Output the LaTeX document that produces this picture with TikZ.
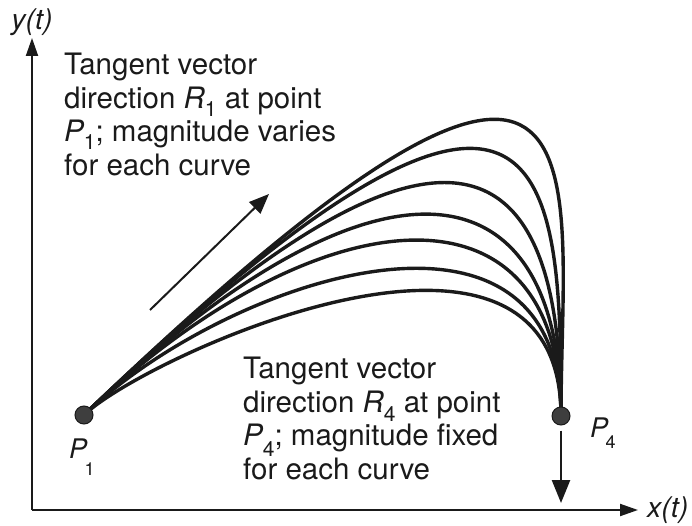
\documentclass[tikz,border=0pt]{standalone}
\usepackage{fontspec}
\setmainfont{TeX Gyre Heros}
\usetikzlibrary{arrows.meta,calc}
\definecolor{ink}{HTML}{1A1A1A}
\definecolor{dotfill}{HTML}{3E3E3E}
\newcommand\mysub[2]{\raisebox{-#1pt}[0pt][0pt]{\fontsize{21}{21}\selectfont #2}}
\tikzset{
  txt/.style={font=\fontsize{29.5}{33.5}\selectfont, align=left, inner sep=0pt, text=ink},
  lbl/.style={font=\fontsize{27}{32}\selectfont, inner sep=0pt, text=ink},
  axisline/.style={draw=ink, line width=2pt, -{Triangle[length=18pt,width=12pt]}},
  curveline/.style={draw=ink, line width=3.4pt},
  dotnode/.style={circle, draw=ink, line width=1pt, fill=dotfill, minimum size=18pt, inner sep=0pt},
  tanarrow/.style={draw=ink, line width=2pt, -{Triangle[length=20pt,width=16pt]}},
  downarrow/.style={draw=ink, line width=2.5pt, -{Triangle[length=23pt,width=18pt]}, shorten <=5pt},
}
\begin{document}
\begin{tikzpicture}[x=1pt,y=-1pt]
\useasboundingbox (0,0) rectangle (692,526);
% axes
\coordinate (O) at (32,510);
\coordinate (ytip) at (32,38);
\coordinate (xtip) at (638,510);
\draw[axisline] (O) -- (ytip);
\draw[axisline] (O) -- (xtip);
\node[lbl, font=\fontsize{28.5}{32}\selectfont, anchor=base] (ylab) at (32,30) {\itshape y(t)};
\node[lbl, font=\fontsize{28.5}{32}\selectfont, anchor=base west] (xlab) at (647,517) {\itshape x(t)};
% curves
\coordinate (p1) at (84,415);
\coordinate (p4) at (561,416);
\foreach \a in {750,650,530,415,315,195,85}{
  \draw[curveline] (p1) .. controls +(0.72*\a,-0.69*\a) and +(0,-250) .. (p4);
}
% points
\node[dotnode] (P1) at (p1) {};
\node[dotnode] (P4) at (p4) {};
\node[lbl, anchor=base west] (P1lab) at (69,458) {{\itshape P}\kern-2.5pt\raisebox{-17pt}{\fontsize{18}{18}\selectfont 1}};
\node[lbl, anchor=base west] (P4lab) at (590,437) {{\itshape P}\kern-2.5pt\raisebox{-11pt}{\fontsize{18}{18}\selectfont 4}};
% tangent vectors
\coordinate (r1s) at (150,310);
\coordinate (r1e) at (269,194);
\draw[tanarrow] (r1s) -- (r1e);
\coordinate (r4e) at (561,503);
\draw[downarrow] (P4) -- (r4e);
% texts
\node[txt, anchor=north west] (t1) at (64,53) {Tangent vector\\direction {\itshape R}\mysub{8}{1} at point\\{\itshape P}\mysub{8}{1}; magnitude varies\\for each curve};
\node[txt, anchor=north west] (t4) at (243,357) {Tangent vector\\direction {\itshape R}\mysub{9}{4} at point\\{\itshape P}\mysub{11}{4}; magnitude fixed\\for each curve};
\end{tikzpicture}
\end{document}
